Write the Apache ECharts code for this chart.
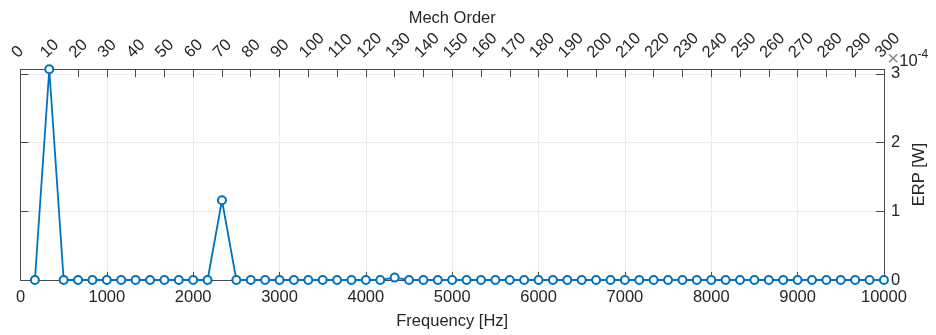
<!DOCTYPE html>
<html>
<head>
<meta charset="utf-8">
<script src="https://cdn.jsdelivr.net/npm/echarts@6/dist/echarts.min.js"></script>
<style>
  html, body { margin: 0; padding: 0; background: #fff; }
  #chart { width: 936px; height: 335px; }
</style>
</head>
<body>
<div id="chart"></div>
<script>
// Harmonic frequencies of the spectrum (Hz), one every 5 mechanical orders
const freqHz = [166.67, 333.33, 500, 666.67, 833.33, 1000, 1166.67, 1333.33, 1500, 1666.67,
  1833.33, 2000, 2166.67, 2333.33, 2500, 2666.67, 2833.33, 3000, 3166.67, 3333.33,
  3500, 3666.67, 3833.33, 4000, 4166.67, 4333.33, 4500, 4666.67, 4833.33, 5000,
  5166.67, 5333.33, 5500, 5666.67, 5833.33, 6000, 6166.67, 6333.33, 6500, 6666.67,
  6833.33, 7000, 7166.67, 7333.33, 7500, 7666.67, 7833.33, 8000, 8166.67, 8333.33,
  8500, 8666.67, 8833.33, 9000, 9166.67, 9333.33, 9500, 9666.67, 9833.33, 10000];

// Equivalent radiated power at each frequency (W)
const erpW = [0, 3.066e-4, 0, 0, 0, 0, 0, 0, 0, 0,
  0, 0, 0, 1.16e-4, 0, 0, 0, 0, 0, 0,
  0, 0, 0, 0, 0, 3.5e-6, 0, 0, 0, 0,
  0, 0, 0, 0, 0, 0, 0, 0, 0, 0,
  0, 0, 0, 0, 0, 0, 0, 0, 0, 0,
  0, 0, 0, 0, 0, 0, 0, 0, 0, 0];

// Axis ranges
const freqMax = 10000;
const orderMax = 300;
const erpMax = 3.066e-4;
const erpScaleExp = -4;

const textColor = '#262626';
const axisColor = '#4a4a4a';
const gridColor = '#ebebeb';
const lineColor = '#0072BD';
const fontFamily = '"Liberation Sans", Arial, Helvetica, sans-serif';

const chart = echarts.init(document.getElementById('chart'), null, { renderer: 'canvas' });

const erpLabel = v => {
  const s = v / Math.pow(10, erpScaleExp);
  return Math.abs(s - Math.round(s)) < 1e-6 ? String(Math.round(s)) : '';
};

chart.setOption({
  animation: false,
  backgroundColor: '#fff',
  textStyle: { fontFamily: fontFamily },
  grid: { left: 20.5, right: 47.5, top: 69.3, bottom: 55, containLabel: false },
  xAxis: [
    {
      type: 'value', position: 'bottom', min: 0, max: freqMax, interval: 1000,
      name: 'Frequency [Hz]', nameLocation: 'middle', nameGap: 33,
      nameTextStyle: { color: textColor, fontSize: 16.5, fontFamily: fontFamily },
      axisLine: { show: true, onZero: false, lineStyle: { color: axisColor, width: 1 } },
      axisTick: { show: true, inside: true, length: 8, lineStyle: { color: axisColor } },
      axisLabel: { color: textColor, fontSize: 16.5, margin: 9, fontFamily: fontFamily, formatter: v => String(v) },
      splitLine: { show: true, lineStyle: { color: gridColor, width: 1 } }
    },
    {
      type: 'value', position: 'top', min: 0, max: orderMax, interval: 10,
      name: 'Mech Order', nameLocation: 'middle', nameGap: 42, nameMoveOverlap: false,
      nameTextStyle: { color: textColor, fontSize: 16.5, fontFamily: fontFamily },
      axisLine: { show: true, onZero: false, lineStyle: { color: axisColor, width: 1 } },
      axisTick: { show: true, inside: true, length: 8, lineStyle: { color: axisColor } },
      axisLabel: { color: textColor, fontSize: 16.5, rotate: -45, margin: 8, verticalAlign: 'bottom', fontFamily: fontFamily, formatter: v => String(v) },
      splitLine: { show: false }
    }
  ],
  yAxis: [
    {
      type: 'value', position: 'right', min: 0, max: erpMax, interval: 1e-4,
      name: 'ERP [W]', nameLocation: 'middle', nameGap: 24, nameRotate: 90,
      nameTextStyle: { color: textColor, fontSize: 16.5, fontFamily: fontFamily },
      axisLine: { show: true, onZero: false, lineStyle: { color: axisColor, width: 1 } },
      axisTick: { show: true, inside: true, length: 8, lineStyle: { color: axisColor } },
      axisLabel: { color: textColor, fontSize: 16.5, margin: 7, formatter: erpLabel, fontFamily: fontFamily },
      splitLine: { show: true, lineStyle: { color: gridColor, width: 1 } }
    },
    {
      type: 'value', position: 'left', min: 0, max: erpMax, interval: 1e-4,
      axisLine: { show: true, onZero: false, lineStyle: { color: axisColor, width: 1 } },
      axisTick: { show: true, inside: true, length: 8, lineStyle: { color: axisColor } },
      axisLabel: { show: false },
      splitLine: { show: false }
    }
  ],
  graphic: [
    {
      type: 'text', left: 887, top: 49, z: 100,
      style: {
        text: '{x|×}{b|10}{s|' + erpScaleExp + '}',
        rich: {
          x: { fontSize: 21, fill: '#8a8a8a', fontFamily: fontFamily, verticalAlign: 'bottom' },
          b: { fontSize: 16.5, fill: textColor, fontFamily: fontFamily, verticalAlign: 'bottom' },
          s: { fontSize: 12, fill: textColor, fontFamily: fontFamily, verticalAlign: 'top', padding: [0, 0, 8, 0] }
        }
      }
    }
  ],
  series: [
    {
      type: 'line', xAxisIndex: 0, yAxisIndex: 0,
      data: freqHz.map((f, i) => [f, erpW[i]]),
      symbol: 'emptyCircle', symbolSize: 8, showAllSymbol: true, clip: false,
      lineStyle: { color: lineColor, width: 1.8 },
      itemStyle: { color: lineColor, borderColor: lineColor, borderWidth: 1.6 },
      z: 5
    }
  ]
});
</script>
</body>
</html>
